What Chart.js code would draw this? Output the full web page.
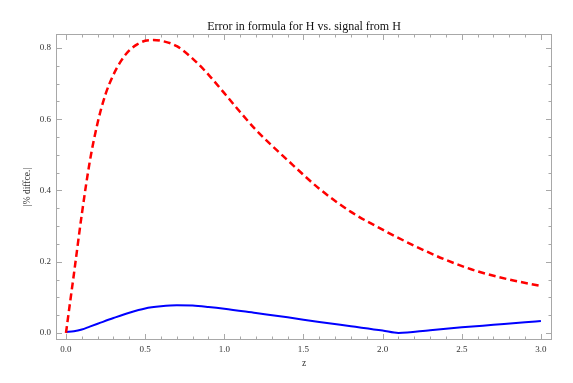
<!DOCTYPE html>
<html>
<head>
<meta charset="utf-8">
<script src="https://cdn.jsdelivr.net/npm/chart.js@4"></script>
<style>
  html, body { margin: 0; padding: 0; background: #fff; }
  #wrap { width: 573px; height: 383px; }
</style>
</head>
<body>
<div id="wrap"><canvas id="myChart"></canvas></div>
<script>
// red dashed curve
const redZ = [0, 0.025, 0.05, 0.1, 0.15, 0.2, 0.25, 0.3, 0.35, 0.4, 0.45, 0.5, 0.55, 0.6, 0.7, 0.8, 0.9, 1.0, 1.1, 1.2, 1.4, 1.6, 1.8, 2.0, 2.2, 2.4, 2.6, 2.8, 3.0];
const redErr = [0, 0.083, 0.165, 0.333, 0.48, 0.59, 0.67, 0.725, 0.765, 0.793, 0.81, 0.82, 0.822, 0.82, 0.805, 0.77, 0.725, 0.673, 0.62, 0.57, 0.485, 0.405, 0.34, 0.29, 0.245, 0.205, 0.173, 0.15, 0.132];
// blue solid curve
const blueZ = [0, 0.05, 0.1, 0.15, 0.2, 0.3, 0.4, 0.5, 0.6, 0.7, 0.8, 0.9, 1.0, 1.2, 1.4, 1.6, 1.8, 2.0, 2.1, 2.3, 2.5, 2.7, 2.9, 3.0];
const blueErr = [0.003, 0.005, 0.01, 0.018, 0.026, 0.042, 0.057, 0.069, 0.075, 0.078, 0.077, 0.073, 0.068, 0.056, 0.044, 0.031, 0.019, 0.007, 0.0, 0.008, 0.016, 0.023, 0.030, 0.034];

const xMajor = [0, 0.5, 1.0, 1.5, 2.0, 2.5, 3.0];
const yMajor = [0, 0.2, 0.4, 0.6, 0.8];
const xMinorStep = 0.1;
const yMinorStep = 0.05;

function isMajor(v, majors) {
    return majors.some(m => Math.abs(m - v) < 1e-6);
}

function buildTicks(min, max, step) {
    const out = [];
    for (let i = Math.ceil(min / step - 1e-9); i * step <= max + 1e-9; i++) {
        out.push({ value: Math.round(i * step * 1000) / 1000 });
    }
    return out;
}

const serif = '"Liberation Serif", "Times New Roman", serif';

// Mathematica style frame with inward ticks on all four sides, plus the title
const frameTicks = {
    id: 'frameTicks',
    beforeDatasetsDraw(chart) {
        const { ctx, chartArea: a, scales: { x, y } } = chart;
        ctx.save();
        ctx.strokeStyle = '#a8a8a8';
        ctx.lineWidth = 1;
        ctx.strokeRect(a.left + 0.5, a.top + 0.5, a.width - 1, a.height - 1);
        ctx.beginPath();
        x.ticks.forEach(t => {
            const px = Math.round(x.getPixelForValue(t.value)) + 0.5;
            const len = isMajor(t.value, xMajor) ? 6 : 3.5;
            ctx.moveTo(px, a.bottom);
            ctx.lineTo(px, a.bottom - len);
            ctx.moveTo(px, a.top);
            ctx.lineTo(px, a.top + len);
        });
        y.ticks.forEach(t => {
            const py = Math.round(y.getPixelForValue(t.value)) + 0.5;
            const len = isMajor(t.value, yMajor) ? 6 : 3.5;
            ctx.moveTo(a.left, py);
            ctx.lineTo(a.left + len, py);
            ctx.moveTo(a.right, py);
            ctx.lineTo(a.right - len, py);
        });
        ctx.stroke();
        ctx.restore();
    },
    afterDraw(chart) {
        const { ctx, chartArea: a } = chart;
        ctx.save();
        ctx.fillStyle = '#111';
        ctx.font = '12px ' + serif;
        ctx.textAlign = 'center';
        ctx.textBaseline = 'alphabetic';
        ctx.fillText('Error in formula for H vs. signal from H', (a.left + a.right) / 2, 30);
        ctx.restore();
    }
};

const ctx = document.getElementById('myChart');
const chart = new Chart(ctx, {
    type: 'line',
    data: {
        datasets: [{
            label: 'formula',
            data: redZ.map((z, i) => ({ x: z, y: redErr[i] })),
            borderColor: '#ff0000',
            borderWidth: 2.5,
            borderDash: [7, 4],
            pointRadius: 0,
            cubicInterpolationMode: 'monotone',
            fill: false
        }, {
            label: 'signal',
            data: blueZ.map((z, i) => ({ x: z, y: blueErr[i] })),
            borderColor: '#0000ff',
            borderWidth: 2,
            pointRadius: 0,
            cubicInterpolationMode: 'monotone',
            fill: false
        }]
    },
    options: {
        responsive: true,
        maintainAspectRatio: false,
        animation: false,
        layout: { padding: { top: 34, right: 21, left: 0, bottom: 0 } },
        plugins: {
            legend: { display: false },
            tooltip: { enabled: false },
            title: { display: false }
        },
        scales: {
            x: {
                type: 'linear',
                min: -0.063,
                max: 3.07,
                afterBuildTicks: s => { s.ticks = buildTicks(s.min, s.max, xMinorStep); },
                afterFit: s => { s.height = 43; },
                grid: { display: false, drawTicks: false },
                border: { display: false },
                ticks: {
                    autoSkip: false,
                    maxRotation: 0,
                    padding: 4,
                    color: '#333',
                    font: { family: serif, size: 9 },
                    callback: v => isMajor(v, xMajor) ? v.toFixed(1) : ''
                },
                title: {
                    display: true,
                    text: 'z',
                    color: '#333',
                    font: { family: serif, size: 9.5 },
                    padding: { top: 0, bottom: 14 }
                }
            },
            y: {
                type: 'linear',
                min: -0.0196,
                max: 0.839,
                afterBuildTicks: s => { s.ticks = buildTicks(s.min, s.max, yMinorStep); },
                afterFit: s => { s.width = 56; },
                grid: { display: false, drawTicks: false },
                border: { display: false },
                ticks: {
                    autoSkip: false,
                    padding: 5,
                    color: '#333',
                    font: { family: serif, size: 9 },
                    callback: v => isMajor(v, yMajor) ? v.toFixed(1) : ''
                },
                title: {
                    display: true,
                    text: '|% diffce.|',
                    color: '#333',
                    font: { family: serif, size: 9.5 },
                    padding: { top: 22, bottom: 0 }
                }
            }
        }
    },
    plugins: [frameTicks]
});
</script>
</body>
</html>
